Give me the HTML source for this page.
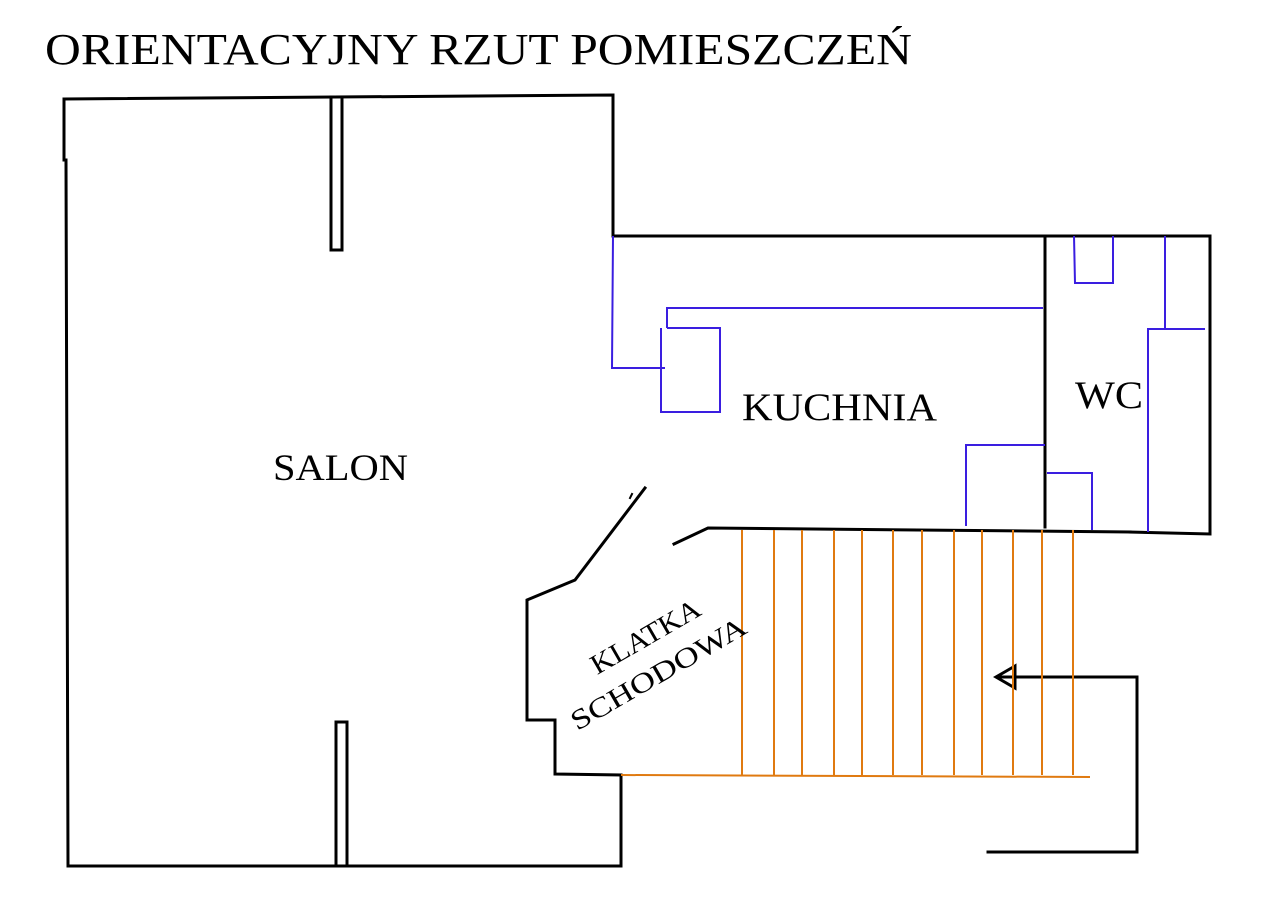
<!DOCTYPE html>
<html><head><meta charset="utf-8"><style>html,body{margin:0;padding:0;background:#fff}svg{display:block}</style></head>
<body>
<svg width="1280" height="913" viewBox="0 0 1280 913" xmlns="http://www.w3.org/2000/svg" font-family="Liberation Serif, serif">
<rect width="1280" height="913" fill="#fff"/>
<text x="45" y="64" font-size="44" textLength="867" lengthAdjust="spacingAndGlyphs">ORIENTACYJNY RZUT POMIESZCZEŃ</text>
<g stroke="#000" stroke-width="3" fill="none" stroke-linecap="square">
<path d="M64 99 L613 95 L613 236 L1210 236 L1210 534 L1130 532"/>
<path d="M64 99 L64 160 M66 160 L68 866 L621 866 L621 775"/>
<path d="M331 97 L331 250 L342 250 L342 97"/>
<path d="M336 865 L336 722 L347 722 L347 865"/>
<path d="M1045 236 L1045 527"/>
<path d="M674 544 L708 528 L1130 532"/>
<path d="M645 488 L575 580 L527 600 L527 720 L555 720 L555 774 L621 775"/>
<path d="M632 494 L630 498" stroke-width="2"/>
<path d="M1137 677 L1137 852 L988 852"/>
<path d="M1137 677 L997 677"/>
<path d="M1015 666 L996 677 L1015 688 Z"/>
</g>
<g stroke="#e07a10" stroke-width="2" fill="none">
<path d="M621 775 L1090 777"/>
<path d="M742 530V775 M774 530V775 M802 530V775 M834 530V775 M862 530V775 M893 530V775 M922 530V775 M954 530V775 M982 530V775 M1013 530V775 M1042 530V775 M1073 530V775"/>
</g>
<g stroke="#3a1ee0" stroke-width="2" fill="none">
<path d="M613 236 L612 368 L665 368"/>
<path d="M661 328 L661 412 L720 412 L720 328 L667 328"/>
<path d="M667 328 L667 308 L1043 308"/>
<path d="M966 526 L966 445 L1045 445"/>
<path d="M1074 236 L1075 283 L1113 283 L1113 236"/>
<path d="M1165 236 L1165 329 L1205 329"/>
<path d="M1165 329 L1148 329 L1148 532"/>
<path d="M1047 473 L1092 473 L1092 530"/>
</g>
<text x="273" y="480" font-size="37" textLength="135" lengthAdjust="spacingAndGlyphs">SALON</text>
<text x="742" y="420" font-size="39" textLength="195" lengthAdjust="spacingAndGlyphs">KUCHNIA</text>
<text x="1075" y="408" font-size="39" textLength="68" lengthAdjust="spacingAndGlyphs">WC</text>
<text x="645" y="646" font-size="28" text-anchor="middle" textLength="122" lengthAdjust="spacingAndGlyphs" transform="rotate(-30 645 636)">KLATKA</text>
<text x="658" y="683" font-size="28" text-anchor="middle" textLength="198" lengthAdjust="spacingAndGlyphs" transform="rotate(-30 658 673)">SCHODOWA</text>
</svg>
</body></html>
